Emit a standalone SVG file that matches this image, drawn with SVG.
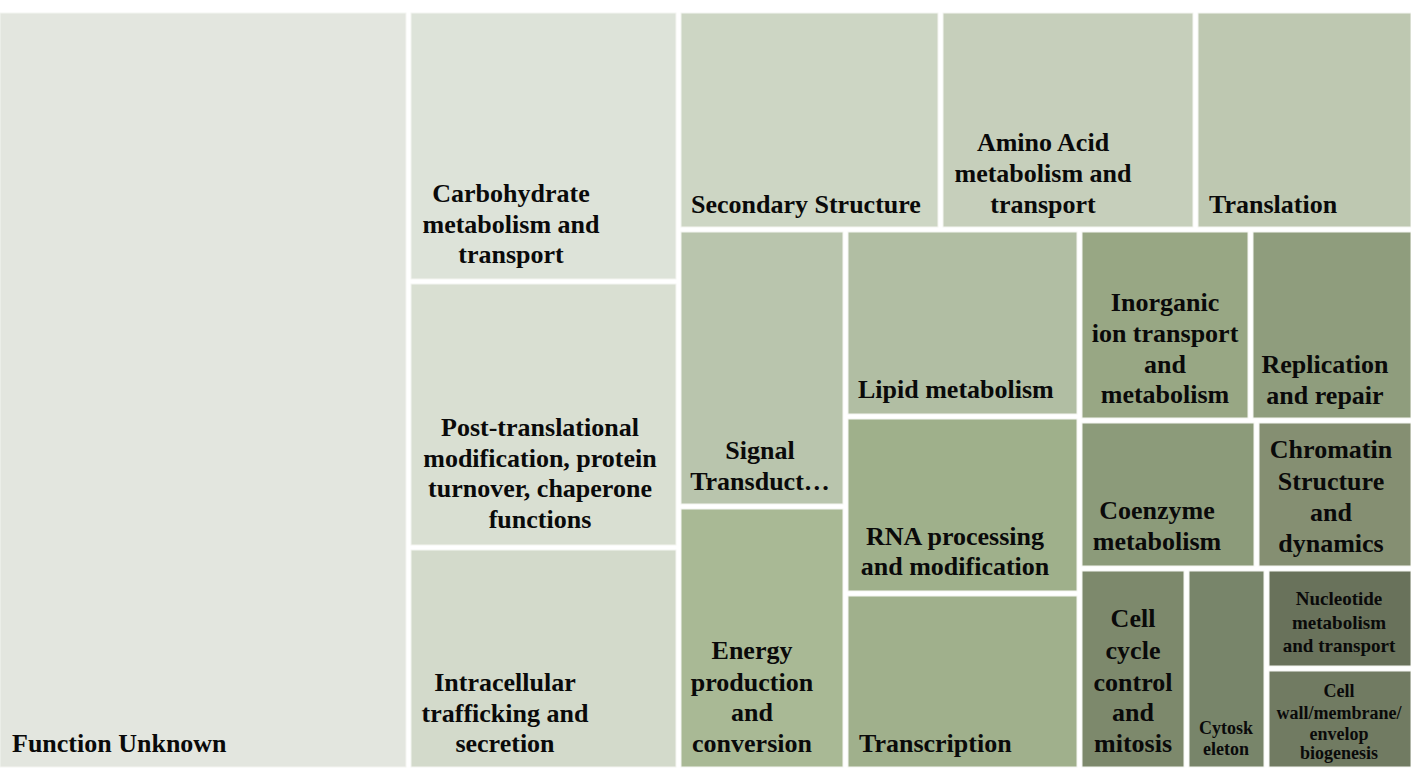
<svg xmlns="http://www.w3.org/2000/svg" width="1411" height="768" viewBox="0 0 1411 768">
<style>
.c{stroke:#f4f5f1;stroke-width:1}
text{font-family:"Liberation Serif","Times New Roman",serif;font-weight:bold;fill:#0a0a0a;font-size:26px}
.m{text-anchor:middle}
.s18{font-size:18px}
.s19{font-size:19px}
</style>
<rect x="0" y="0" width="1411" height="768" fill="#ffffff"/>
<g id="function-unknown"><rect class="c" x="0" y="13" width="406" height="754" fill="#e3e6df"/><text x="12" y="752">Function Unknown</text></g>
<g id="carbohydrate"><rect class="c" x="411" y="13" width="265" height="266" fill="#dde3d9"/><text class="m" x="511" y="202">Carbohydrate</text><text class="m" x="511" y="233">metabolism and</text><text class="m" x="511" y="263">transport</text></g>
<g id="post-translational"><rect class="c" x="411" y="284" width="265" height="261" fill="#d9dfd2"/><text class="m" x="540" y="436">Post-translational</text><text class="m" x="540" y="467">modification, protein</text><text class="m" x="540" y="497">turnover, chaperone</text><text class="m" x="540" y="528">functions</text></g>
<g id="intracellular"><rect class="c" x="411" y="550" width="265" height="217" fill="#d3dacb"/><text class="m" x="505" y="691">Intracellular</text><text class="m" x="505" y="722">trafficking and</text><text class="m" x="505" y="752">secretion</text></g>
<g id="secondary-structure"><rect class="c" x="681" y="13" width="257" height="214" fill="#cdd6c4"/><text x="691" y="213">Secondary Structure</text></g>
<g id="amino-acid"><rect class="c" x="943" y="13" width="250" height="214" fill="#c6cfbb"/><text class="m" x="1043" y="151">Amino Acid</text><text class="m" x="1043" y="182">metabolism and</text><text class="m" x="1043" y="213">transport</text></g>
<g id="translation"><rect class="c" x="1198" y="13" width="213" height="214" fill="#bec8b1"/><text x="1209" y="213">Translation</text></g>
<g id="signal"><rect class="c" x="681" y="232" width="162" height="272" fill="#b9c5ad"/><text class="m" x="760" y="459">Signal</text><text class="m" x="760" y="490">Transduct…</text></g>
<g id="energy"><rect class="c" x="681" y="509" width="162" height="258" fill="#a9b995"/><text class="m" x="752" y="659">Energy</text><text class="m" x="752" y="691">production</text><text class="m" x="752" y="721">and</text><text class="m" x="752" y="752">conversion</text></g>
<g id="lipid"><rect class="c" x="848" y="232" width="229" height="182" fill="#b1bea3"/><text x="858" y="398">Lipid metabolism</text></g>
<g id="rna"><rect class="c" x="848" y="419" width="229" height="172" fill="#9fb08b"/><text class="m" x="955" y="545">RNA processing</text><text class="m" x="955" y="575">and modification</text></g>
<g id="transcription"><rect class="c" x="848" y="596" width="229" height="171" fill="#a0b08c"/><text x="859" y="752">Transcription</text></g>
<g id="inorganic"><rect class="c" x="1082" y="232" width="166" height="186" fill="#98a784"/><text class="m" x="1165" y="311">Inorganic</text><text class="m" x="1165" y="342">ion transport</text><text class="m" x="1165" y="373">and</text><text class="m" x="1165" y="403">metabolism</text></g>
<g id="replication"><rect class="c" x="1253" y="232" width="158" height="186" fill="#8f9d7d"/><text class="m" x="1325" y="373">Replication</text><text class="m" x="1325" y="404">and repair</text></g>
<g id="coenzyme"><rect class="c" x="1082" y="423" width="172" height="143" fill="#8c9b7a"/><text class="m" x="1157" y="519">Coenzyme</text><text class="m" x="1157" y="550">metabolism</text></g>
<g id="chromatin"><rect class="c" x="1259" y="423" width="152" height="143" fill="#858f72"/><text class="m" x="1331" y="458">Chromatin</text><text class="m" x="1331" y="490">Structure</text><text class="m" x="1331" y="521">and</text><text class="m" x="1331" y="552">dynamics</text></g>
<g id="cell-cycle"><rect class="c" x="1082" y="571" width="102" height="196" fill="#7d896c"/><text class="m" x="1133" y="627">Cell</text><text class="m" x="1133" y="659">cycle</text><text class="m" x="1133" y="691">control</text><text class="m" x="1133" y="721">and</text><text class="m" x="1133" y="752">mitosis</text></g>
<g id="cytoskeleton"><rect class="c" x="1189" y="571" width="75" height="196" fill="#78856a"/><text class="m s18" x="1226" y="734">Cytosk</text><text class="m s18" x="1226" y="755">eleton</text></g>
<g id="nucleotide"><rect class="c" x="1269" y="571" width="142" height="95" fill="#69725b"/><text class="m s19" x="1339" y="605">Nucleotide</text><text class="m s19" x="1339" y="629">metabolism</text><text class="m s19" x="1339" y="652">and transport</text></g>
<g id="cell-wall"><rect class="c" x="1269" y="671" width="142" height="96" fill="#717b62"/><text class="m s18" x="1339" y="697">Cell</text><text class="m s18" x="1339" y="719">wall/membrane/</text><text class="m s18" x="1339" y="740">envelop</text><text class="m s18" x="1339" y="759">biogenesis</text></g>
<g id="connectors"></g>
</svg>
